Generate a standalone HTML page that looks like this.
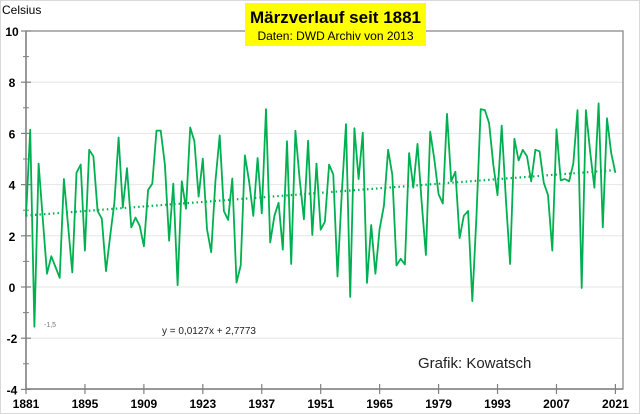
<!DOCTYPE html>
<html><head><meta charset="utf-8"><style>
body{margin:0;background:#fff;}
svg{display:block;font-family:"Liberation Sans",sans-serif;}
</style></head><body>
<svg id="chart" width="640" height="414" viewBox="0 0 640 414">
<rect x="0.5" y="0.5" width="639" height="413" fill="#fff" stroke="#d9d9d9"/>
<g id="grid"></g>
<rect x="26" y="31" width="597" height="358" fill="none" stroke="#808080" stroke-width="1.2"/>
<g id="axes"></g>
<g id="series"></g>
<text x="2" y="14" font-size="12" fill="#000">Celsius</text>
<rect x="245" y="3" width="181" height="43" fill="#ffff00"/>
<text x="335.5" y="23" font-size="17" font-weight="bold" text-anchor="middle">Märzverlauf seit 1881</text>
<text x="335.5" y="40" font-size="12" text-anchor="middle">Daten: DWD Archiv von 2013</text>
<text x="162" y="334" font-size="10" fill="#222">y = 0,0127x + 2,7773</text>
<text x="418" y="368" font-size="15" fill="#222">Grafik: Kowatsch</text>
<text x="44" y="327" font-size="7" fill="#777">-1,5</text>
</svg>
<script>
const startYear = 1881;
const values = [2.75,6.14,-1.55,4.82,2.65,0.52,1.20,0.78,0.36,4.22,2.39,0.57,4.46,4.78,1.42,5.36,5.10,2.97,2.67,0.62,
2.0,3.3,5.84,3.10,4.64,2.33,2.71,2.39,1.59,3.79,4.04,6.11,6.11,4.78,1.81,4.04,0.07,4.13,3.06,6.23,
5.69,3.53,5.01,2.26,1.36,4.13,5.92,2.97,2.62,4.24,0.17,0.84,5.14,4.13,2.78,5.04,2.88,6.95,1.74,2.78,
3.29,1.46,5.69,0.90,6.10,4.23,2.65,5.71,2.03,4.82,2.24,2.55,4.78,4.39,0.41,3.68,6.36,-0.39,6.20,4.22,
6.03,0.16,2.42,0.52,2.26,3.17,5.36,4.39,0.84,1.10,0.88,5.23,3.88,5.59,3.29,1.25,6.07,4.97,3.62,3.26,
6.76,4.13,4.50,1.91,2.78,2.97,-0.55,2.8,6.95,6.91,6.40,4.78,3.59,6.30,3.42,0.90,5.79,4.94,5.36,5.10,
4.13,5.36,5.30,4.07,3.59,1.42,6.16,4.17,4.22,4.13,4.82,6.91,-0.04,6.91,5.30,3.88,7.17,2.33,6.59,5.23,4.46];
const yTicks = [10,8,6,4,2,0,-2,-4];
const xTickYears = [1881,1895,1909,1923,1937,1951,1965,1979,1993,2007,2021];
const trendSlope = 0.0127;
const trendIntercept = 2.7773;

const NS="http://www.w3.org/2000/svg";
const xs = yr => 26 + 4.21*(yr-startYear);
const ys = v => 287 - 25.6*v;
function mk(tag, attrs, parent){const e=document.createElementNS(NS,tag);for(const k in attrs)e.setAttribute(k,attrs[k]);parent.appendChild(e);return e;}
const grid=document.getElementById('grid'), axes=document.getElementById('axes'), series=document.getElementById('series');

yTicks.forEach(v=>{
  const g=mk('line',{x1:26,x2:623,y1:ys(v),y2:ys(v),stroke:'#e6e6e6','stroke-width':1},grid);
  
  
  const t=mk('line',{x1:21,x2:31,y1:ys(v),y2:ys(v),stroke:'#808080','stroke-width':1.2},axes);
  
  
  const m=mk('line',{x1:23,x2:29,y1:ys(v-1),y2:ys(v-1),stroke:'#808080','stroke-width':1},axes);
  
  
  const l=mk('text',{x:12,y:ys(v)+5,'font-size':12,'font-weight':'bold','text-anchor':'middle'},axes);
  l.textContent=v;
  
  
});
const ax=mk('line',{x1:26,x2:26,y1:31,y2:389,stroke:'#808080','stroke-width':1.5},axes);


const bx=mk('line',{x1:26,x2:623,y1:389,y2:389,stroke:'#808080','stroke-width':1.5},axes);


xTickYears.forEach(yr=>{
  const t=mk('line',{x1:xs(yr),x2:xs(yr),y1:384,y2:394,stroke:'#808080','stroke-width':1.2},axes);
  
  
  const l=mk('text',{x:xs(yr),y:408,'font-size':12,'font-weight':'bold','text-anchor':'middle'},axes);
  l.textContent=yr;
  
  
});
const n=values.length;
const tr=mk('line',{x1:xs(startYear),y1:ys(trendIntercept+trendSlope*1),x2:xs(startYear+n-1),y2:ys(trendIntercept+trendSlope*n),stroke:'#00b050','stroke-width':2.2,'stroke-dasharray':'1.5 3'},series);


const pts=values.map((v,i)=>xs(startYear+i).toFixed(1)+','+ys(v).toFixed(1)).join(' ');
const pl=mk('polyline',{points:pts,fill:'none',stroke:'#00b050','stroke-width':1.8,'stroke-linejoin':'round'},series);


</script>
</body></html>
